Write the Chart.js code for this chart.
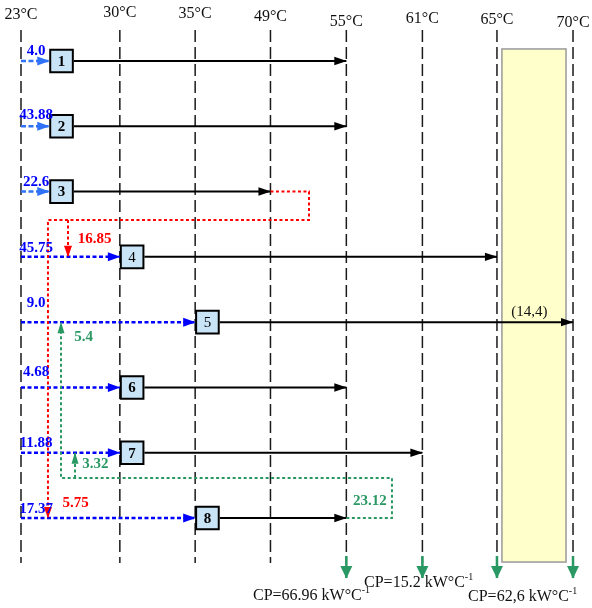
<!DOCTYPE html>
<html><head><meta charset="utf-8">
<script src="https://cdn.jsdelivr.net/npm/chart.js@4.4.1/dist/chart.umd.min.js"></script>
<style>html,body{margin:0;padding:0;background:#fff}canvas{display:block}</style>
</head><body>
<canvas id="c" width="592" height="608"></canvas>
<script>
// ---------------- DATA ----------------
const temperatures = [23, 30, 35, 49, 55, 61, 65, 70];          // temperature interval lines (°C)
const streams = [1, 2, 3, 4, 5, 6, 7, 8];                       // stream / operation numbers
const streamInletT = [25, 25, 25, 30, 35, 30, 30, 35];          // box (inlet) temperature
const streamOutletT = [55, 55, 49, 65, 70, 55, 61, 55];         // outlet temperature
const freshFlow = ['4.0', '43.88', '22.6', '45.75', '9.0', '4.68', '11.88', '17.37'];
const redReuse = ['16.85', '5.75'];           // stream 3 outlet reused in streams 4 and 8
const redTargets = [4, 8];
const greenReuse = ['23.12', '5.4', '3.32'];  // stream 8 outlet (total) reused in streams 5 and 7
const greenTargets = [5, 7];
const sinkTemps = [55, 61, 65, 70];
const sinkCP = ['66.96', '15.2', '62,6'];
const heaterLabel = '(14,4)';

// ---------------- LAYOUT (positions / styles) ----------------
const COL = [0, 1.3125, 2.3125, 3.3125, 4.32, 5.33, 6.32, 7.33];   // horizontal place of each temperature line
const X_MIN = -0.2789, X_MAX = 7.582, Y_MIN = 0.066, Y_MAX = 9.378;
const BOX_HALF = 0.163;
const LINE_TOP = 0.526, LINE_BOTTOM = 8.69;
const SINK_TOP = 8.58, SINK_TIP = 8.92;
const RECT = {x0: 6.386, x1: 7.237, y0: 0.816, y1: 8.674};
const RED_RIGHT = 3.824, RED_Y = 3.436, RED_MAIN_X = 0.358, RED_BRANCH_X = 0.624;
const GREEN_RIGHT = 4.926, GREEN_Y = 7.387, GREEN_MAIN_X = 0.531, GREEN_BRANCH_X = 0.717;
const HEADER_Y = [0.296, 0.265, 0.280, 0.326, 0.403, 0.357, 0.372, 0.418];
const BLUE_LBL_DX = 0.2;
const BLUE_LBL_DY = [0.153, 0.168, 0.138, 0.138, 0.291, 0.230, 0.153, 0.138];
const RED_LBL = [[0.976, 3.727], [0.724, 7.77]];
const GREEN_LBL = [[4.634, 7.739], [0.830, 5.228], [0.989, 7.173]];
const HEATER_LBL = [6.752, 4.845];
const CP_LBL = [[3.080, 9.194], [4.555, 8.995], [5.936, 9.210]];
const SERIF = '"Liberation Serif", "Times New Roman", serif';
const BLUE_LIGHT = '#2f72f8', BLUE = '#0000ff', RED = '#ff0000', GREEN = '#2a9863';

function tx(T) {
  const t = temperatures;
  let i = 0;
  while (i < t.length - 2 && T > t[i + 1]) i++;
  return COL[i] + (T - t[i]) * (COL[i + 1] - COL[i]) / (t[i + 1] - t[i]);
}

const datasets = [];
function addLine(points, color, width, dash, order, arrow) {
  datasets.push({
    type: 'line', data: points, borderColor: color, borderWidth: width,
    borderDash: dash, pointRadius: 0, fill: false, tension: 0, order: order,
    borderCapStyle: 'butt', borderJoinStyle: 'miter', arrow: arrow
  });
}

// temperature interval lines
temperatures.forEach(T => {
  addLine([{x: tx(T), y: LINE_TOP}, {x: tx(T), y: LINE_BOTTOM}], '#1a1a1a', 1.5, [12, 5], 20, null);
});
// sink arrows
sinkTemps.forEach(T => {
  addLine([{x: tx(T), y: SINK_TOP}, {x: tx(T), y: SINK_TIP}], GREEN, 2.5, [], 15, {len: 12, half: 6});
});
// fresh water inlets and stream lines
streams.forEach((s, i) => {
  const row = s;
  const light = i < 3;
  addLine([{x: tx(temperatures[0]), y: row}, {x: tx(streamInletT[i]), y: row}],
    light ? BLUE_LIGHT : BLUE, 2.5, light ? [5, 2.5] : [4, 2.5], 10, {len: 12, half: 4.5});
  addLine([{x: tx(streamInletT[i]) + 2 * BOX_HALF, y: row}, {x: tx(streamOutletT[i]), y: row}],
    '#000', 2, [], 10, {len: 12, half: 4.2});
});
// red reuse (stream 3 -> 4, 8)
addLine([{x: tx(streamOutletT[2]), y: 3}, {x: RED_RIGHT, y: 3}, {x: RED_RIGHT, y: RED_Y},
         {x: RED_MAIN_X, y: RED_Y}, {x: RED_MAIN_X, y: redTargets[1]}], RED, 2, [3, 2.5], 5, {len: 11, half: 4});
addLine([{x: RED_BRANCH_X, y: RED_Y}, {x: RED_BRANCH_X, y: redTargets[0]}], RED, 2, [3, 2.5], 5, {len: 11, half: 4});
// green reuse (stream 8 -> 5, 7)
addLine([{x: tx(streamOutletT[7]), y: 8}, {x: GREEN_RIGHT, y: 8}, {x: GREEN_RIGHT, y: GREEN_Y},
         {x: GREEN_MAIN_X, y: GREEN_Y}, {x: GREEN_MAIN_X, y: greenTargets[0]}], GREEN, 2, [3, 2.5], 5, {len: 11, half: 3.5});
addLine([{x: GREEN_BRANCH_X, y: GREEN_Y}, {x: GREEN_BRANCH_X, y: greenTargets[1]}], GREEN, 2, [3, 2.5], 5, {len: 11, half: 3.5});
// boxes
datasets.push({
  type: 'scatter', order: 0,
  data: streams.map((s, i) => ({x: tx(streamInletT[i]) + BOX_HALF, y: s})),
  pointStyle: 'rect', pointRadius: 16, pointHoverRadius: 16,
  pointBackgroundColor: '#c9e4f7', pointBorderColor: '#000', pointBorderWidth: 2
});

const decor = {
  id: 'decor',
  beforeDatasetsDraw(chart) {
    const {ctx, scales: {x, y}} = chart;
    ctx.save();
    const l = x.getPixelForValue(RECT.x0), r = x.getPixelForValue(RECT.x1);
    const t = y.getPixelForValue(RECT.y0), b = y.getPixelForValue(RECT.y1);
    ctx.fillStyle = '#ffffcc';
    ctx.fillRect(l, t, r - l, b - t);
    ctx.strokeStyle = '#9a9a9a'; ctx.lineWidth = 1.5;
    ctx.strokeRect(l, t, r - l, b - t);
    ctx.restore();
  },
  afterDatasetsDraw(chart) {
    const {ctx, scales: {x, y}} = chart;
    // arrow heads
    chart.data.datasets.forEach((ds, i) => {
      if (!ds.arrow) return;
      const pts = chart.getDatasetMeta(i).data;
      const a = pts[pts.length - 2], b = pts[pts.length - 1];
      const ang = Math.atan2(b.y - a.y, b.x - a.x);
      ctx.save();
      ctx.fillStyle = ds.borderColor;
      ctx.translate(b.x, b.y); ctx.rotate(ang);
      ctx.beginPath(); ctx.moveTo(0.5, 0); ctx.lineTo(-ds.arrow.len, -ds.arrow.half);
      ctx.lineTo(-ds.arrow.len, ds.arrow.half); ctx.closePath(); ctx.fill();
      ctx.restore();
    });
    ctx.save();
    ctx.textAlign = 'center'; ctx.textBaseline = 'middle';
    // header temperatures
    ctx.fillStyle = '#111';
    ctx.font = '16px ' + SERIF;
    temperatures.forEach((T, i) => {
      ctx.fillText(T + '°C', x.getPixelForValue(tx(T)), y.getPixelForValue(HEADER_Y[i]));
    });
    // box numbers
    streams.forEach((s, i) => {
      ctx.font = ((s === 4 || s === 5) ? '' : 'bold ') + '15px ' + SERIF;
      ctx.fillStyle = '#000';
      ctx.fillText(String(s), x.getPixelForValue(tx(streamInletT[i]) + BOX_HALF), y.getPixelForValue(s) + 1);
    });
    // fresh water labels
    ctx.font = 'bold 15px ' + SERIF;
    ctx.fillStyle = BLUE;
    freshFlow.forEach((v, i) => {
      ctx.fillText(v, x.getPixelForValue(tx(temperatures[0]) + BLUE_LBL_DX), y.getPixelForValue(streams[i] - BLUE_LBL_DY[i]));
    });
    ctx.fillStyle = RED;
    redReuse.forEach((v, i) => {
      ctx.fillText(v, x.getPixelForValue(RED_LBL[i][0]), y.getPixelForValue(RED_LBL[i][1]));
    });
    ctx.fillStyle = GREEN;
    greenReuse.forEach((v, i) => {
      ctx.fillText(v, x.getPixelForValue(GREEN_LBL[i][0]), y.getPixelForValue(GREEN_LBL[i][1]));
    });
    ctx.fillStyle = '#111';
    ctx.font = '15px ' + SERIF;
    ctx.fillText(heaterLabel, x.getPixelForValue(HEATER_LBL[0]), y.getPixelForValue(HEATER_LBL[1]));
    // CP labels
    ctx.textAlign = 'left';
    sinkCP.forEach((v, i) => {
      const px = x.getPixelForValue(CP_LBL[i][0]), py = y.getPixelForValue(CP_LBL[i][1]);
      ctx.font = '16px ' + SERIF;
      const txt = 'CP=' + v + ' kW°C';
      ctx.fillText(txt, px, py);
      const w = ctx.measureText(txt).width;
      ctx.font = '10px ' + SERIF;
      ctx.fillText('-1', px + w, py - 6);
    });
    ctx.restore();
  }
};

new Chart(document.getElementById('c'), {
  data: {datasets},
  options: {
    responsive: false, animation: false, events: [],
    layout: {padding: 0, autoPadding: false},
    plugins: {legend: {display: false}, tooltip: {enabled: false}},
    scales: {
      x: {type: 'linear', display: false, min: X_MIN, max: X_MAX},
      y: {type: 'linear', display: false, min: Y_MIN, max: Y_MAX, reverse: true}
    }
  },
  plugins: [decor]
});
</script>
</body></html>
